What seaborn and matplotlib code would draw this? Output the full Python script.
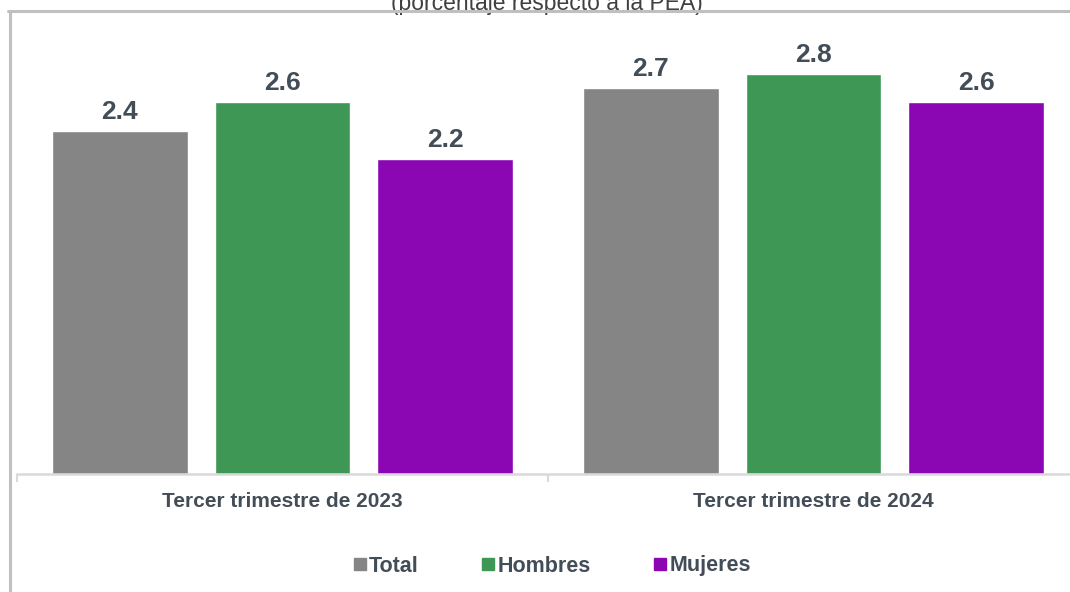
import pandas as pd
import matplotlib.pyplot as plt
from matplotlib.lines import Line2D
import seaborn as sns

# ----------------------------------------------------------
# Data (tasa, porcentaje respecto a la PEA)
# ----------------------------------------------------------
periodos = ["Tercer trimestre de 2023", "Tercer trimestre de 2024"]
grupos = ["Total", "Hombres", "Mujeres"]
total = [2.4, 2.7]
hombres = [2.6, 2.8]
mujeres = [2.2, 2.6]
colores = ["#858585", "#3e9755", "#8b07b4"]

df = pd.DataFrame({
    "periodo": periodos * 3,
    "grupo": [g for g in grupos for _ in periodos],
    "valor": total + hombres + mujeres,
})

sns.set_style("white")
plt.rcParams["font.family"] = ["Liberation Sans", "DejaVu Sans"]

texto = "#434d58"
gris_eje = "#d9d9d9"

fig = plt.figure(figsize=(10.7, 5.92), dpi=100)
# axes spans x 17..1079 px, y 11..474 px
ax = fig.add_axes([17 / 1070, 118 / 592, 1062 / 1070, 463 / 592])

sns.barplot(data=df, x="periodo", y="valor", hue="grupo", hue_order=grupos,
            palette=colores, width=0.92, gap=0.166, saturation=1,
            legend=False, ax=ax)

for cont in ax.containers:
    ax.bar_label(cont, fmt="%.1f", padding=5, fontsize=19,
                 fontweight="bold", color=texto)

ax.set_xlim(-0.5, 1.5)
ax.set_ylim(0, 463 / 143)
ax.set_xlabel("")
ax.set_ylabel("")
ax.set_yticks([])

for s in ["top", "right", "left"]:
    ax.spines[s].set_visible(False)
ax.spines["bottom"].set_color(gris_eje)
ax.spines["bottom"].set_linewidth(1.8)

ax.set_xticks([0, 1])
ax.set_xticklabels(periodos, fontsize=15, fontweight="bold", color=texto)
ax.tick_params(axis="x", which="major", bottom=False, length=0, pad=13)
ax.set_xticks([-0.5, 0.5, 1.5], minor=True)
ax.tick_params(axis="x", which="minor", bottom=True, length=6, width=1.5,
               color=gris_eje, direction="out")

# legend
handles = [Line2D([], [], marker="s", linestyle="none", markersize=8,
                  markerfacecolor=c, markeredgecolor=c) for c in colores]
leg = fig.legend(handles, grupos, loc="center", ncol=3, frameon=False,
                 bbox_to_anchor=(552 / 1070, 1 - 566 / 592),
                 prop={"size": 15.5, "weight": "bold"},
                 handlelength=0.6, handletextpad=0.15, columnspacing=2.9)
for t in leg.get_texts():
    t.set_color(texto)

# title (cut at the top of the picture)
fig.text(547 / 1070, 1 - 10 / 592, "(porcentaje respecto a la PEA)",
         ha="center", va="baseline", fontsize=16.5, color="#404040", zorder=1)

# outer frame (only top and left edges visible)
fig.add_artist(Line2D([8 / 1070, 1], [1 - 11 / 592, 1 - 11 / 592],
                      transform=fig.transFigure, color="#c0c0c0", lw=2.2,
                      zorder=5))
fig.add_artist(Line2D([9.5 / 1070, 9.5 / 1070], [0, 1 - 11 / 592],
                      transform=fig.transFigure, color="#c0c0c0", lw=2.2,
                      zorder=5))

plt.savefig("out.png", dpi=100)
